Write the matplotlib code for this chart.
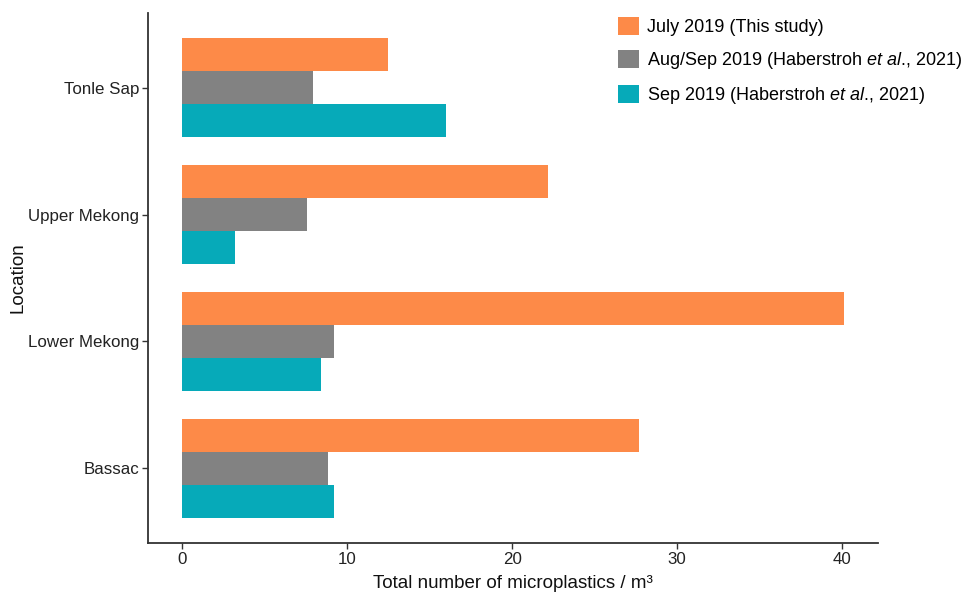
import matplotlib
matplotlib.use("Agg")
import matplotlib.pyplot as plt
import numpy as np
from matplotlib.patches import Patch

plt.rcParams['font.family'] = ['Liberation Sans', 'DejaVu Sans']
plt.rcParams['mathtext.fontset'] = 'custom'
plt.rcParams['mathtext.rm'] = 'Liberation Sans'
plt.rcParams['mathtext.it'] = 'Liberation Sans:italic'

locations = ["Tonle Sap", "Upper Mekong", "Lower Mekong", "Bassac"]
july_2019 = [12.5, 22.2, 40.1, 27.7]
aug_sep_2019 = [7.95, 7.6, 9.2, 8.85]
sep_2019 = [16.0, 3.2, 8.4, 9.2]

series_labels = [
    "July 2019 (This study)",
    r"Aug/Sep 2019 (Haberstroh $\it{et\ al}$., 2021)",
    r"Sep 2019 (Haberstroh $\it{et\ al}$., 2021)",
]
colors = ["#FD8A48", "#828282", "#06AAB9"]
series = [july_2019, aug_sep_2019, sep_2019]

fig = plt.figure(figsize=(9.69, 5.92), dpi=100)
ax = fig.add_axes([0.1527, 0.0828, 0.906 - 0.1527, 0.978 - 0.0828])

n = len(locations)
ypos = np.arange(n, 0, -1).astype(float)  # Tonle Sap at top
bh = 0.78 / 3
handles = []
for i, (vals, c, lab) in enumerate(zip(series, colors, series_labels)):
    offs = 0.39 - bh / 2 - i * bh
    ax.barh(ypos + offs, vals, height=bh, color=c, edgecolor='none')
    handles.append(Patch(facecolor=c, edgecolor='none', label=lab))

ax.set_yticks(ypos)
ax.set_yticklabels(locations)
ax.set_ylim(0.41, n + 0.59)
ax.set_xlim(-2.05, 42.15)
ax.set_xticks([0, 10, 20, 30, 40])

for s in ['top', 'right']:
    ax.spines[s].set_visible(False)
for s in ['left', 'bottom']:
    ax.spines[s].set_color('#333333')
    ax.spines[s].set_linewidth(1.3)
ax.tick_params(axis='both', colors='#333333', length=4, width=1, labelsize=12.2, labelcolor='#222222')
ax.tick_params(axis='x', pad=2.5)
ax.tick_params(axis='y', pad=2.5)

ax.set_xlabel("Total number of microplastics / m³", fontsize=13.5, color='#111111', labelpad=6)
ax.set_ylabel("Location", fontsize=13.5, color='#111111', labelpad=1)

leg = fig.legend(handles=handles, loc='upper left', bbox_to_anchor=(0.638, 0.971),
                 frameon=False, fontsize=13, handlelength=1.17, handleheight=1.17,
                 handletextpad=0.4, labelspacing=0.75, borderaxespad=0, borderpad=0)

fig.savefig("out.png", dpi=100, facecolor='white')
